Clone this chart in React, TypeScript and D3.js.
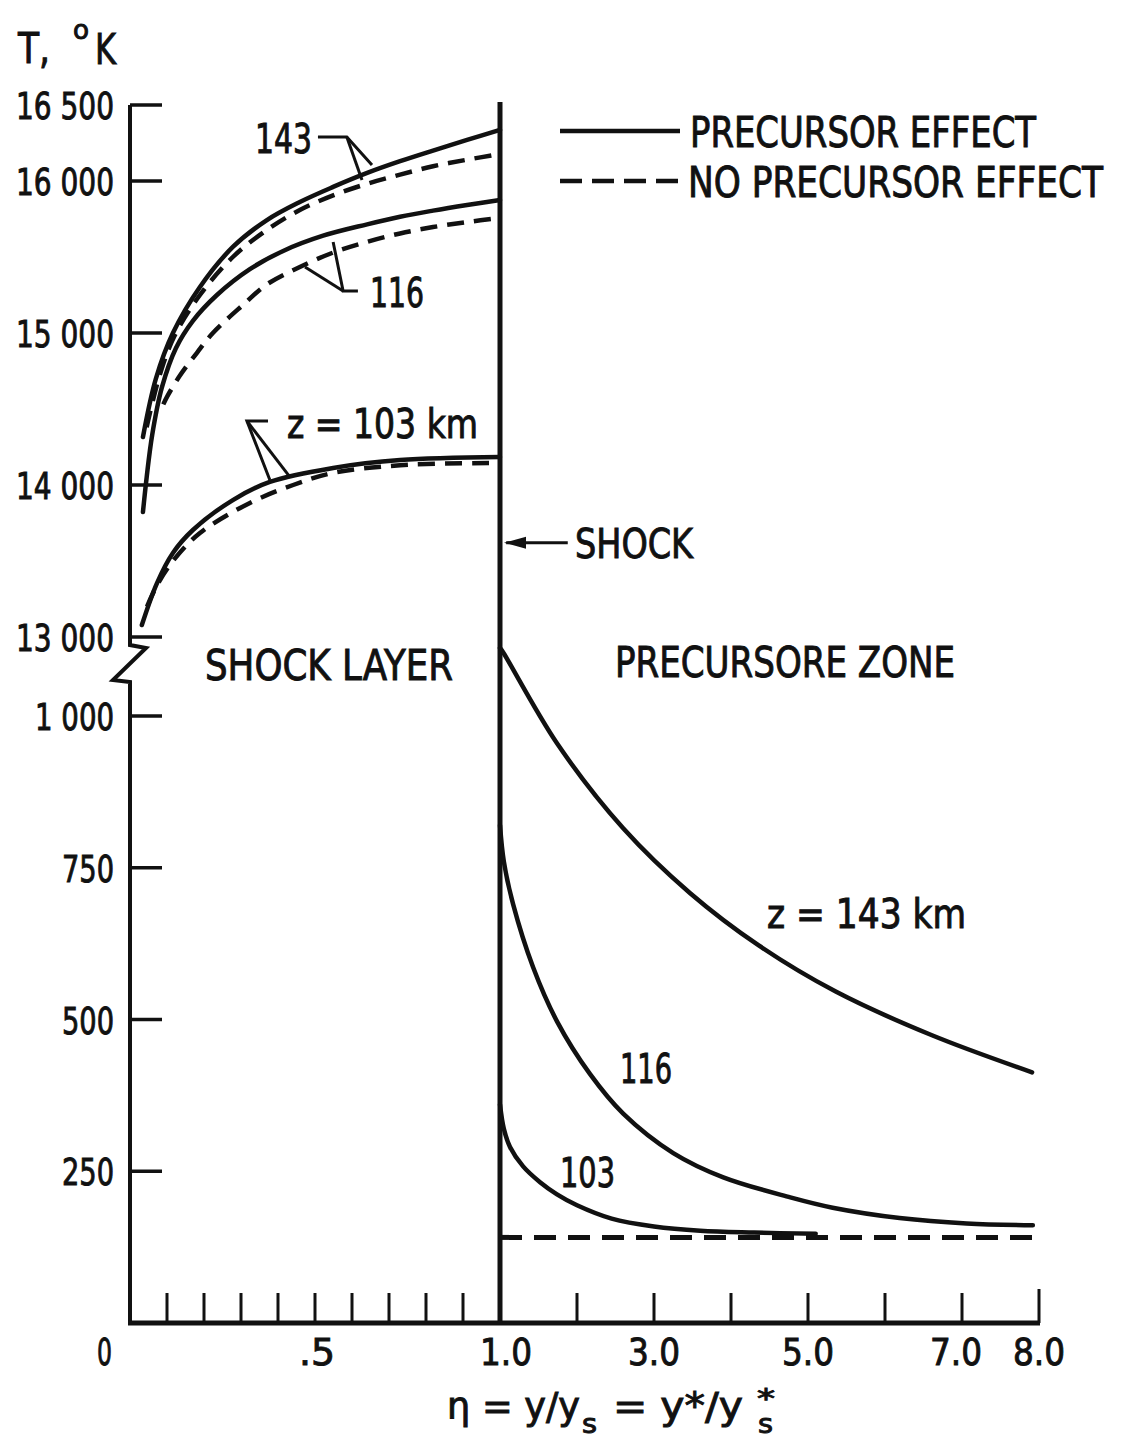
import React from "react";
import * as d3 from "d3";

const W = 1124;
const H = 1442;

// ---------- axis ticks ----------
const upperTicks = [13000, 14000, 15000, 16000, 16500];
const upperTickLabels = ["13 000", "14 000", "15 000", "16 000", "16 500"];
const lowerTicks = [250, 500, 750, 1000];
const lowerTickLabels = ["250", "500", "750", "1 000"];
const etaLeftTicks = [0.1, 0.2, 0.3, 0.4, 0.5, 0.6, 0.7, 0.8, 0.9];
const etaRightTicks = [2, 3, 4, 5, 6, 7, 8];
const xLabelValuesLeft = [0.5];
const xLabelTextsLeft = [".5"];
const xLabelValuesRight = [1, 3, 5, 7, 8];
const xLabelTextsRight = ["1.0", "3.0", "5.0", "7.0", "8.0"];

// ---------- shock layer (eta 0..1, T upper scale) ----------
const sl143Solid: [number, number][] = [
  [0.035, 14316], [0.07, 14700], [0.116, 15000], [0.189, 15303], [0.278, 15566],
  [0.37, 15743], [0.459, 15862], [0.549, 15961], [0.641, 16053], [0.73, 16130],
  [0.819, 16200], [0.911, 16270], [1.0, 16336],
];
const sl143Dashed: [number, number][] = [
  [0.045, 14380], [0.08, 14720], [0.12, 14980], [0.189, 15250], [0.278, 15500],
  [0.37, 15678], [0.459, 15809], [0.549, 15905], [0.641, 15982], [0.73, 16042],
  [0.819, 16097], [0.911, 16140], [1.0, 16178],
];
const sl116Solid: [number, number][] = [
  [0.035, 13822], [0.045, 14050], [0.06, 14330], [0.086, 14640], [0.124, 14900],
  [0.17, 15080], [0.235, 15250], [0.324, 15420], [0.414, 15540], [0.522, 15640],
  [0.641, 15715], [0.73, 15765], [0.819, 15805], [0.911, 15842], [1.0, 15875],
];
const sl116Dashed: [number, number][] = [
  [0.09, 14530], [0.1, 14580], [0.135, 14720], [0.181, 14870], [0.224, 15000],
  [0.305, 15184], [0.37, 15320], [0.459, 15434], [0.55, 15530], [0.641, 15600],
  [0.73, 15655], [0.819, 15697], [0.911, 15730], [1.0, 15757],
];
const sl103Solid: [number, number][] = [
  [0.032, 13079], [0.073, 13355], [0.116, 13553], [0.17, 13704], [0.278, 13901],
  [0.378, 14020], [0.549, 14112], [0.73, 14164], [1.0, 14184],
];
const sl103Dashed: [number, number][] = [
  [0.046, 13200], [0.073, 13340], [0.116, 13500], [0.189, 13684], [0.324, 13882],
  [0.441, 14000], [0.549, 14080], [0.73, 14130], [1.0, 14145],
];

// ---------- precursor zone (eta 1..8, T lower scale) ----------
const pz143: [number, number][] = [
  [1.0, 1112], [1.04, 1105], [1.74, 955], [2.6, 815], [3.47, 708], [4.36, 622],
  [5.36, 546], [6.61, 474], [7.91, 413],
];
const pz116: [number, number][] = [
  [1.0, 820], [1.05, 760], [1.17, 690], [1.43, 586], [1.74, 497], [2.17, 410],
  [2.6, 345], [3.25, 280], [3.9, 240], [4.77, 207], [5.32, 190], [6.19, 173],
  [7.06, 164], [7.92, 161],
];
const pz103: [number, number][] = [
  [1.0, 360], [1.05, 320], [1.13, 290], [1.3, 258], [1.52, 232], [1.74, 212],
  [2.0, 194], [2.45, 172], [3.0, 159], [3.6, 152], [4.3, 149], [5.1, 147],
];
const pzNoPrecursor: [number, number][] = [[1.0, 141], [8.0, 141]];

// ---------- scales ----------
const xL = d3.scaleLinear().domain([0, 1]).range([130, 500]);
const xR = d3.scaleLinear().domain([1, 8]).range([500, 1039]);
const yU = d3.scaleLinear().domain([13000, 16500]).range([637, 105]);
const yLo = d3.scaleLinear().domain([0, 1000]).range([1323, 716]);

const smooth = d3.curveCatmullRom.alpha(0.5);
const lineU = d3
  .line<[number, number]>()
  .x((d) => xL(d[0]))
  .y((d) => yU(d[1]))
  .curve(smooth);
const lineLo = d3
  .line<[number, number]>()
  .x((d) => xR(d[0]))
  .y((d) => yLo(d[1]))
  .curve(smooth);

const INK = "#111";
const FONT = "'DejaVu Sans Condensed', 'DejaVu Sans', 'Liberation Sans', sans-serif";

function Txt(props: {
  x: number;
  y: number;
  w?: number;
  size?: number;
  anchor?: string;
  children: React.ReactNode;
}) {
  const { x, y, w, size = 40, anchor = "start", children } = props;
  return (
    <text
      x={x}
      y={y}
      fontSize={size}
      fontFamily={FONT}
      fill={INK}
      stroke={INK}
      strokeWidth={0.9}
      textAnchor={anchor}
      textLength={w}
      lengthAdjust={w ? "spacingAndGlyphs" : undefined}
      style={{ fontStretch: "condensed" }}
    >
      {children}
    </text>
  );
}

function Leader(props: { pts: [number, number][] }) {
  const p = d3.line()(props.pts.map((d) => [xL(d[0]), yU(d[1])] as [number, number]));
  return <path d={p || ""} fill="none" stroke={INK} strokeWidth={3} />;
}

export default function App() {
  const yAxisBreak = `M${xL(0)},${yU(16500)} L${xL(0)},${yU(13000) + 8} L${xL(0) + 16},${yU(13000) + 11} L${xL(0) - 17},${yU(13000) + 43} L${xL(0)},${yU(13000) + 45} L${xL(0)},${yLo(0)}`;
  const tickLen = 32;
  const xTickLen = 30;
  const dashCurve = "17 10";
  return (
    <svg
      width={W}
      height={H}
      viewBox={`0 0 ${W} ${H}`}
      style={{ position: "absolute", left: 0, top: 0, background: "#fff" }}
    >
      <rect width={W} height={H} fill="#fff" />
      {/* Y axis with break */}
      <path d={yAxisBreak} fill="none" stroke={INK} strokeWidth={4} strokeLinejoin="miter" />
      {upperTicks.map((t, i) => (
        <g key={"u" + t}>
          <line x1={xL(0)} x2={xL(0) + tickLen} y1={yU(t)} y2={yU(t)} stroke={INK} strokeWidth={3.5} />
          <Txt x={114} y={yU(t) + 14} w={98} size={38} anchor="end">
            {upperTickLabels[i]}
          </Txt>
        </g>
      ))}
      {lowerTicks.map((t, i) => (
        <g key={"l" + t}>
          <line x1={xL(0)} x2={xL(0) + tickLen} y1={yLo(t)} y2={yLo(t)} stroke={INK} strokeWidth={3.5} />
          <Txt x={114} y={yLo(t) + 14} w={t >= 1000 ? 79 : 52} size={38} anchor="end">
            {lowerTickLabels[i]}
          </Txt>
        </g>
      ))}

      {/* X axis */}
      <line x1={xL(0) - 2} x2={xR(8) + 1} y1={yLo(0)} y2={yLo(0)} stroke={INK} strokeWidth={5} />
      {etaLeftTicks.map((t) => (
        <line key={"xl" + t} x1={xL(t)} x2={xL(t)} y1={yLo(0)} y2={yLo(0) - xTickLen} stroke={INK} strokeWidth={3} />
      ))}
      {etaRightTicks.map((t) => (
        <line key={"xr" + t} x1={xR(t)} x2={xR(t)} y1={yLo(0)} y2={yLo(0) - xTickLen - (t === 8 ? 4 : 0)} stroke={INK} strokeWidth={3} />
      ))}
      <Txt x={xL(0) - 18} y={1365} w={15} size={38} anchor="end">0</Txt>
      {xLabelValuesLeft.map((v, i) => (
        <Txt key={"xll" + v} x={xL(v) + 2} y={1365} w={36} size={38} anchor="middle">
          {xLabelTextsLeft[i]}
        </Txt>
      ))}
      {xLabelValuesRight.map((v, i) => (
        <Txt key={"xrl" + v} x={xR(v) - (v === 7 ? 6 : 0) + (v === 1 ? 6 : 0)} y={1365} w={52} size={38} anchor="middle">
          {xLabelTextsRight[i]}
        </Txt>
      ))}

      {/* axis titles */}
      <Txt x={447} y={1419} w={133} size={38}>η = y/y</Txt>
      <Txt x={582} y={1433} w={15} size={27}>s</Txt>
      <Txt x={613} y={1419} w={130} size={38}>= y*/y</Txt>
      <Txt x={757} y={1408} w={18} size={27}>*</Txt>
      <Txt x={758} y={1433} w={15} size={27}>s</Txt>

      <Txt x={18} y={63} w={32} size={42}>T,</Txt>
      <Txt x={73} y={39} w={16} size={26}>o</Txt>
      <Txt x={95} y={64} w={21} size={42}>K</Txt>

      {/* shock line */}
      <line x1={xL(1)} x2={xL(1)} y1={yU(16500) - 3} y2={yLo(0)} stroke={INK} strokeWidth={5} />

      {/* shock layer curves */}
      <path d={lineU(sl143Solid) || ""} fill="none" stroke={INK} strokeWidth={4.5} strokeLinecap="round" />
      <path d={lineU(sl143Dashed) || ""} fill="none" stroke={INK} strokeWidth={4.5} strokeDasharray={dashCurve} />
      <path d={lineU(sl116Solid) || ""} fill="none" stroke={INK} strokeWidth={4.5} strokeLinecap="round" />
      <path d={lineU(sl116Dashed) || ""} fill="none" stroke={INK} strokeWidth={4.5} strokeDasharray={dashCurve} />
      <path d={lineU(sl103Solid) || ""} fill="none" stroke={INK} strokeWidth={4.5} strokeLinecap="round" />
      <path d={lineU(sl103Dashed) || ""} fill="none" stroke={INK} strokeWidth={4.5} strokeDasharray={dashCurve} />

      {/* precursor zone curves */}
      <path d={lineLo(pz143) || ""} fill="none" stroke={INK} strokeWidth={4.5} strokeLinecap="round" />
      <path d={lineLo(pz116) || ""} fill="none" stroke={INK} strokeWidth={4.5} strokeLinecap="round" />
      <path d={lineLo(pz103) || ""} fill="none" stroke={INK} strokeWidth={4.5} strokeLinecap="round" />
      <path d={lineLo(pzNoPrecursor) || ""} fill="none" stroke={INK} strokeWidth={5} strokeDasharray="22 12" />

      {/* leaders */}
      <Leader pts={[[0.508, 16289], [0.586, 16289], [0.654, 16105]]} />
      <Leader pts={[[0.586, 16289], [0.627, 16007]]} />
      <Leader pts={[[0.616, 15276], [0.576, 15276], [0.549, 15599]]} />
      <Leader pts={[[0.576, 15276], [0.473, 15434]]} />
      <Leader pts={[[0.373, 14421], [0.316, 14421], [0.378, 14033]]} />
      <Leader pts={[[0.316, 14421], [0.432, 14053]]} />

      {/* curve labels */}
      <Txt x={255} y={153} w={57} size={40}>143</Txt>
      <Txt x={370} y={307} w={54} size={40}>116</Txt>
      <Txt x={287} y={438} w={191} size={40}>z = 103 km</Txt>
      <Txt x={767} y={928} w={199} size={40}>z = 143 km</Txt>
      <Txt x={620} y={1083} w={52} size={40}>116</Txt>
      <Txt x={560} y={1187} w={55} size={40}>103</Txt>

      {/* region labels */}
      <Txt x={205} y={680} w={248} size={42}>SHOCK LAYER</Txt>
      <Txt x={615} y={677} w={340} size={42}>PRECURSORE ZONE</Txt>

      {/* shock arrow */}
      <line x1={xR(1.88)} x2={xR(1.08)} y1={yU(13620)} y2={yU(13620)} stroke={INK} strokeWidth={3} />
      <path
        d={`M${xR(1.0) + 4},${yU(13620)} L${xR(1.0) + 26},${yU(13620) - 6} L${xR(1.0) + 26},${yU(13620) + 6} Z`}
        fill={INK}
      />
      <Txt x={575} y={558} w={118} size={40}>SHOCK</Txt>

      {/* legend */}
      <line x1={560} x2={680} y1={131} y2={131} stroke={INK} strokeWidth={4.5} />
      <Txt x={690} y={147} w={346} size={42}>PRECURSOR EFFECT</Txt>
      <line x1={560} x2={680} y1={181} y2={181} stroke={INK} strokeWidth={4.5} strokeDasharray="22 10" />
      <Txt x={688} y={197} w={415} size={42}>NO PRECURSOR EFFECT</Txt>
    </svg>
  );
}
